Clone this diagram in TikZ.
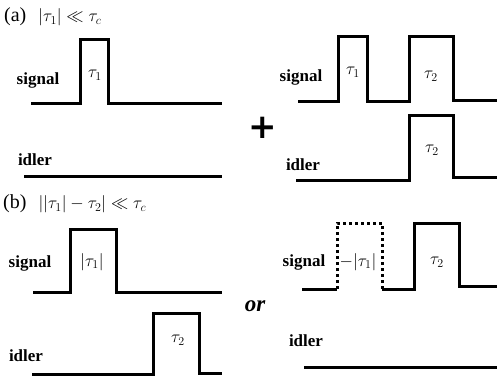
\documentclass[tikz,border=0pt]{standalone}
\usepackage{fontspec}
\setmainfont{Liberation Serif}
\newfontfamily\symfont{DejaVu Sans}
\usepackage{tikz}
\tikzset{
  wave/.style  ={line width=3pt, line join=miter},
  ghost/.style ={line width=3pt, dash pattern=on 3pt off 3pt},
  chan/.style  ={font=\fontsize{17}{17}\selectfont\bfseries, inner sep=0pt},
  tlbl/.style  ={font=\fontsize{18}{18}\selectfont, inner sep=0pt},
  ttl/.style   ={font=\fontsize{17}{17}\selectfont, inner sep=0pt, anchor=west},
  op/.style    ={inner sep=0pt}
}
\newcommand{\panel}[1]{{\fontsize{20}{20}\selectfont(#1)}\hspace{12pt}}

\begin{document}
\begin{tikzpicture}[x=1pt, y=-1pt]
\useasboundingbox (0,0) rectangle (497,381);
% (a)
\node[ttl] (ta) at (4,17) {\panel{a}$|\tau_1|\ll\tau_c$};
\node[chan] (sa) at (38,80) {signal};
\node[chan] (ia) at (35,160) {idler};
\draw[wave] (31,103) -- (80,103) -- (80,39) -- (108,39) -- (108,103) -- (222,103);
\node[tlbl] (ua) at (95,75) {$\tau_1$};
\draw[wave] (24,176) -- (222,176);
\node[op, font=\fontsize{34}{34}\selectfont\symfont\bfseries] (plus) at (262.5,127.5) {+};
\node[chan] (sa2) at (301,77) {signal};
\node[chan] (ia2) at (303,165) {idler};
\draw[wave] (298,101) -- (338,101) -- (338,36) -- (367,36) -- (367,101)
  -- (409,101) -- (409,36) -- (453,36) -- (453,100) -- (497,100);
\node[tlbl] (ua2) at (353,72) {$\tau_1$};
\node[tlbl] (va2) at (431,76) {$\tau_2$};
\draw[wave] (296,180) -- (409,180) -- (409,115) -- (453,115) -- (453,177) -- (497,177);
\node[tlbl] (va3) at (432,150) {$\tau_2$};
% (b)
\node[ttl] (tb) at (3,204) {\panel{b}$\bigl||\tau_1|-\tau_2\bigr|\ll\tau_c$};
\node[chan] (sb) at (30,263) {signal};
\node[chan] (ib) at (26,356) {idler};
\draw[wave] (33,292) -- (70,292) -- (70,229) -- (116,229) -- (116,292) -- (222,292);
\node[tlbl] (ub) at (92,262) {$|\tau_1|$};
\draw[wave] (32,374) -- (153,374) -- (153,313) -- (199,313) -- (199,373) -- (222,373);
\node[tlbl] (vb) at (178,340) {$\tau_2$};
\node[op, font=\fontsize{23}{23}\selectfont\bfseries\itshape] (or) at (255,306) {or};
\node[chan] (sb2) at (304,262) {signal};
\node[chan] (ib2) at (306,341) {idler};
\draw[wave] (302,289) -- (337,289);
\draw[ghost] (337,289) -- (337,223) -- (382,223) -- (382,289);
\draw[wave] (382,289) -- (414,289) -- (414,223) -- (459,223) -- (459,286) -- (497,286);
\node[tlbl] (ub2) at (358,262) {$-|\tau_1|$};
\node[tlbl] (vb2) at (437,262) {$\tau_2$};
\draw[wave] (304,367) -- (497,367);
\end{tikzpicture}
\end{document}
